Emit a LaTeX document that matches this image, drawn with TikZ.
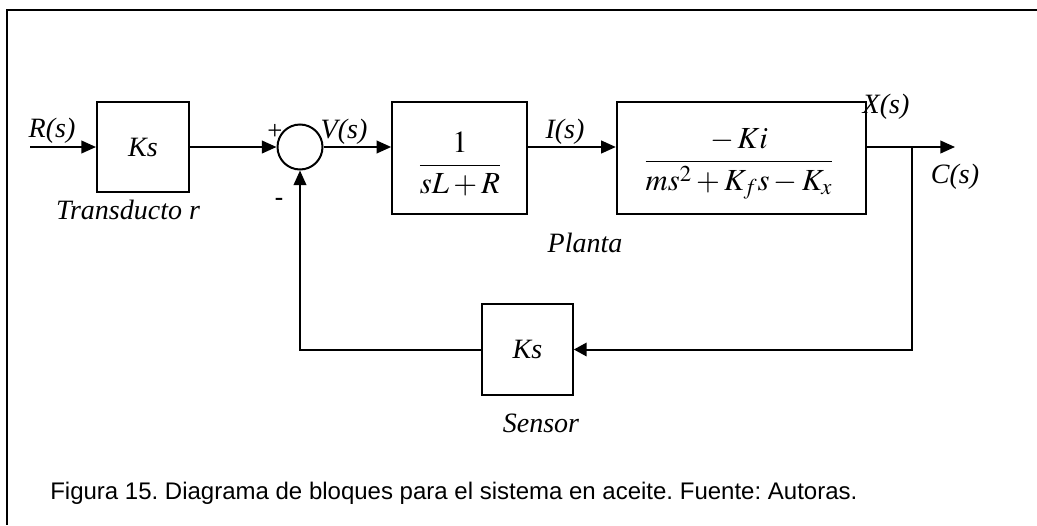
\documentclass[tikz,border=0pt]{standalone}
\usepackage{mathptmx}
\usepackage{fontspec}
\setmainfont{Liberation Serif}
\newfontfamily\capfont{Liberation Sans}
\usetikzlibrary{positioning,arrows.meta,calc}
\frenchspacing

\begin{document}
\begin{tikzpicture}[x=0.75pt,y=-0.75pt,
  b/.style={draw,line width=1.5pt,align=center,inner sep=0pt,
            font=\fontsize{21}{24}\selectfont\itshape},
  lbl/.style={font=\fontsize{21}{24}\selectfont\itshape,inner sep=0pt},
  fr/.style={font=\fontsize{23}{26}\selectfont,inner sep=0pt},
  a/.style={-{Triangle[length=11pt,width=9.5pt]},line width=1.5pt},
  a2/.style={-{Triangle[length=9.5pt,width=10pt]},line width=1.5pt}]
\useasboundingbox (0,0) rectangle (1037,525);
% frame
\draw[line width=1.6pt] (1037,10) -- (7,10) -- (7,525);
% forward path
\coordinate (rin) at (30,147);
\node[b,minimum width=69pt,minimum height=67.5pt] (tr) at (143,147) {Ks};
\node[draw,circle,line width=1.5pt,minimum size=33.75pt,inner sep=0pt] (sum) at (300,147) {};
\node[b,minimum width=101pt,minimum height=84pt] (b1) at (459.5,158) {};
\node[b,minimum width=187pt,minimum height=84pt] (b2) at (741.5,158) {};
\node[fr] (f1) at (460,164) {$\displaystyle\frac{1}{sL+R}$};
\node[fr] (f2) at (739,164) {$\displaystyle\frac{-\,Ki}{ms^{2}+K_{f}s-K_{x}}$};
\coordinate (br) at (912,147);
\coordinate (cout) at (955,147);
% feedback
\node[b,minimum width=68pt,minimum height=68pt] (sen) at (527.5,349.5) {Ks};
% labels
\node[lbl] (rs) at (52,131) {R(s)};
\node[lbl] (vs) at (344,132) {V(s)};
\node[lbl] (is) at (565,132) {I(s)};
\node[lbl] (xs) at (886,107) {X(s)};
\node[lbl] (cs) at (955,177) {C(s)};
\node[font=\fontsize{20}{20}\selectfont,inner sep=0pt] (pl) at (275,132) {+};
\node[font=\capfont\fontsize{20}{20}\selectfont,inner sep=0pt] (mi) at (279,202) {-};
\node[lbl] (ltr) at (128,210) {Transducto r};
\node[lbl] (lpl) at (585,243) {Planta};
\node[lbl] (lsen) at (541,423) {Sensor};
\node[anchor=west,inner sep=0pt,font=\capfont\fontsize{18}{18}\selectfont] (cap) at (50,493)
  {Figura 15. Diagrama de bloques para el sistema en aceite. Fuente: Autoras.};
% connectors
\draw[a] (rin) -- (tr);
\draw[a] (tr) -- (sum);
\draw[a] (sum) -- (sum -| b1.west);
\draw[a] (b1.east |- sum) -- (b2.west |- sum);
\draw[a] (b2.east |- sum) -- (cout);
\draw[a2] (br) |- (sen);
\draw[a] (sen) -| (sum);
\end{tikzpicture}
\end{document}
